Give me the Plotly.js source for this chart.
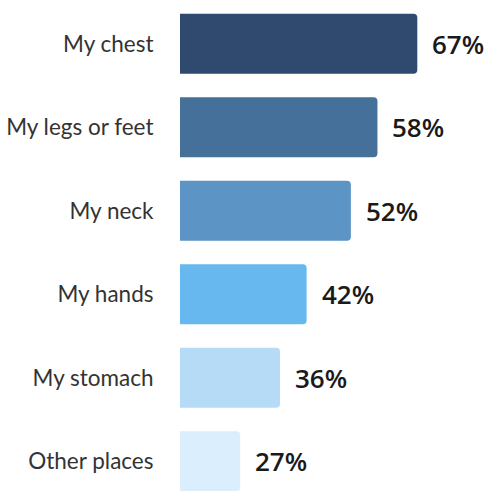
<!DOCTYPE html>
<html><head><meta charset="utf-8">
<script src="https://cdn.plot.ly/plotly-3.0.1.min.js"></script>
<style>html,body{margin:0;padding:0;background:#fff;}#chart{width:493px;height:491px;}</style>
</head><body><div id="chart"></div>
<script>
const categories = ["My chest", "My legs or feet", "My neck", "My hands", "My stomach", "Other places"];
const values = [67, 58, 52, 42, 36, 27];
const colors = ["#30496e", "#45709a", "#5b94c5", "#68b8f0", "#b6dbf6", "#dbeefd"];

const trace = {
  type: "bar", orientation: "h",
  x: values, y: categories,
  marker: {color: colors, cornerradius: 4},
  width: 0.72,
  hoverinfo: "none"
};
const annotations = values.map((v, i) => ({
  x: v, y: categories[i], xref: "x", yref: "y",
  text: v + "%", showarrow: false, xanchor: "left", xshift: 13,
  font: {family: "Open Sans", size: 26, color: "#1a1a1a", weight: 600}
}));
const layout = {
  width: 493, height: 491,
  margin: {l: 180, r: 0, t: 2, b: 0},
  paper_bgcolor: "#fff", plot_bgcolor: "#fff",
  showlegend: false,
  xaxis: {range: [13.4, 84.1], visible: false, fixedrange: true},
  yaxis: {type: "category", range: [5.356, -0.5], showgrid: false, zeroline: false, showline: false,
    ticks: "outside", ticklen: 21, tickcolor: "rgba(0,0,0,0)",
    tickfont: {family: "Lato", size: 22.5, color: "#333"}},
  annotations: annotations
};
Plotly.newPlot("chart", [trace], layout, {staticPlot: true, displayModeBar: false});
</script></body></html>
